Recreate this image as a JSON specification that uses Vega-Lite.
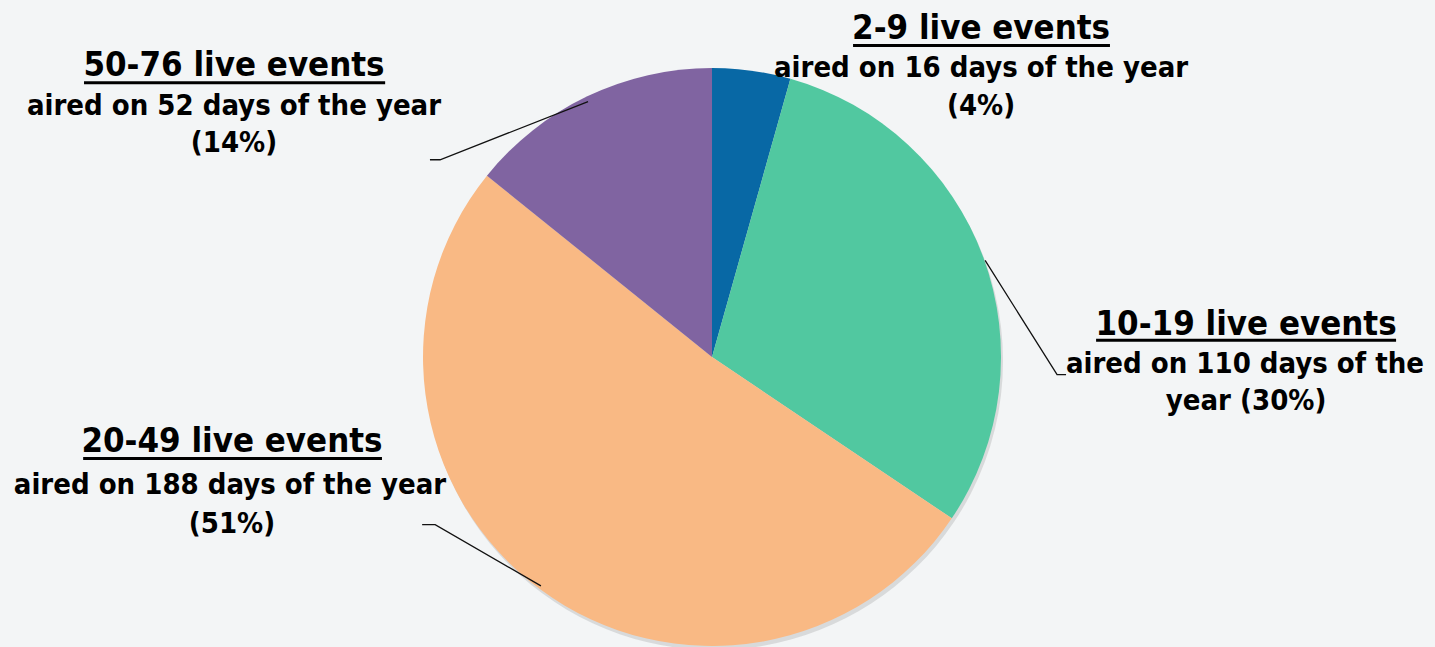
{
  "$schema": "https://vega.github.io/schema/vega-lite/v6.json",
  "width": 1435,
  "height": 647,
  "autosize": {"type": "fit", "contains": "padding"},
  "padding": 0,
  "background": "#F3F5F6",
  "config": {"view": {"stroke": null}},
  "datasets": {
    "pie": [
      {"group": "2-9 live events", "days": 16, "ord": 1},
      {"group": "10-19 live events", "days": 110, "ord": 2},
      {"group": "20-49 live events", "days": 188, "ord": 3},
      {"group": "50-76 live events", "days": 52, "ord": 4}
    ],
    "leaders": [
      {"seg": "50-76", "k": 1, "u": -0.429, "v": 0.896},
      {"seg": "50-76", "k": 2, "u": -0.941, "v": 0.692},
      {"seg": "50-76", "k": 3, "u": -0.976, "v": 0.692},
      {"seg": "10-19", "k": 1, "u": 0.945, "v": 0.339},
      {"seg": "10-19", "k": 2, "u": 1.194, "v": -0.062},
      {"seg": "10-19", "k": 3, "u": 1.225, "v": -0.062},
      {"seg": "20-49", "k": 1, "u": -0.592, "v": -0.803},
      {"seg": "20-49", "k": 2, "u": -0.958, "v": -0.588},
      {"seg": "20-49", "k": 3, "u": -1.003, "v": -0.588}
    ],
    "underlines": [
      {"seg": "50-76", "u1": -2.173, "u2": -1.131, "v": 0.962},
      {"seg": "2-9", "u1": 0.488, "u2": 1.377, "v": 1.093},
      {"seg": "10-19", "u1": 1.329, "u2": 2.367, "v": 0.059},
      {"seg": "20-49", "u1": -2.176, "u2": -1.142, "v": -0.356}
    ],
    "labels": [
      {"role": "title", "text": "50-76 live events", "u": -1.654, "v": 1.021},
      {"role": "body", "text": "aired on 52 days of the year", "u": -1.654, "v": 0.879},
      {"role": "body", "text": "(14%)", "u": -1.654, "v": 0.751},
      {"role": "title", "text": "2-9 live events", "u": 0.931, "v": 1.152},
      {"role": "body", "text": "aired on 16 days of the year", "u": 0.931, "v": 1.014},
      {"role": "body", "text": "(4%)", "u": 0.931, "v": 0.882},
      {"role": "title", "text": "10-19 live events", "u": 1.848, "v": 0.114},
      {"role": "body", "text": "aired on 110 days of the", "u": 1.844, "v": -0.024},
      {"role": "body", "text": "year (30%)", "u": 1.848, "v": -0.156},
      {"role": "title", "text": "20-49 live events", "u": -1.661, "v": -0.298},
      {"role": "body", "text": "aired on 188 days of the year", "u": -1.668, "v": -0.45},
      {"role": "body", "text": "(51%)", "u": -1.661, "v": -0.585}
    ]
  },
  "encoding": {
    "x": {"type": "quantitative", "scale": {"domain": [-2.4637, 2.5017], "nice": false, "zero": false}, "axis": null},
    "y": {"type": "quantitative", "scale": {"domain": [-0.986, 1.2526], "nice": false, "zero": false}, "axis": null}
  },
  "layer": [
    {
      "data": {"name": "pie"},
      "mark": {"type": "arc", "radius": 289, "color": "#9a9a9a", "opacity": 0.3, "xOffset": 2, "yOffset": 4},
      "encoding": {
        "x": {"datum": 0, "type": "quantitative"},
        "y": {"datum": 0, "type": "quantitative"},
        "theta": {"field": "days", "type": "quantitative", "stack": true},
        "order": {"field": "ord", "type": "quantitative"}
      }
    },
    {
      "data": {"name": "pie"},
      "mark": {"type": "arc", "radius": 289},
      "encoding": {
        "x": {"datum": 0, "type": "quantitative"},
        "y": {"datum": 0, "type": "quantitative"},
        "theta": {"field": "days", "type": "quantitative", "stack": true},
        "order": {"field": "ord", "type": "quantitative"},
        "color": {
          "field": "group", "type": "nominal",
          "scale": {
            "domain": ["2-9 live events", "10-19 live events", "20-49 live events", "50-76 live events"],
            "range": ["#0868A5", "#51C8A0", "#F9B984", "#8064A1"]
          },
          "legend": null
        }
      }
    },
    {
      "data": {"name": "leaders"},
      "mark": {"type": "line", "color": "#111111", "strokeWidth": 1.3},
      "encoding": {
        "x": {"field": "u", "type": "quantitative"},
        "y": {"field": "v", "type": "quantitative"},
        "detail": {"field": "seg"},
        "order": {"field": "k", "type": "quantitative"}
      }
    },
    {
      "data": {"name": "underlines"},
      "mark": {"type": "rule", "color": "#000000", "strokeWidth": 3},
      "encoding": {
        "x": {"field": "u1", "type": "quantitative"},
        "x2": {"field": "u2"},
        "y": {"field": "v", "type": "quantitative"}
      }
    },
    {
      "data": {"name": "labels"},
      "transform": [{"filter": "datum.role === 'title'"}],
      "mark": {"type": "text", "font": "DejaVu Sans Condensed", "fontWeight": "bold", "fontSize": 34.5, "align": "center", "baseline": "middle", "color": "#000000"},
      "encoding": {
        "x": {"field": "u", "type": "quantitative"},
        "y": {"field": "v", "type": "quantitative"},
        "text": {"field": "text"}
      }
    },
    {
      "data": {"name": "labels"},
      "transform": [{"filter": "datum.role === 'body'"}],
      "mark": {"type": "text", "font": "DejaVu Sans Condensed", "fontWeight": "bold", "fontSize": 29, "align": "center", "baseline": "middle", "color": "#000000"},
      "encoding": {
        "x": {"field": "u", "type": "quantitative"},
        "y": {"field": "v", "type": "quantitative"},
        "text": {"field": "text"}
      }
    }
  ]
}
